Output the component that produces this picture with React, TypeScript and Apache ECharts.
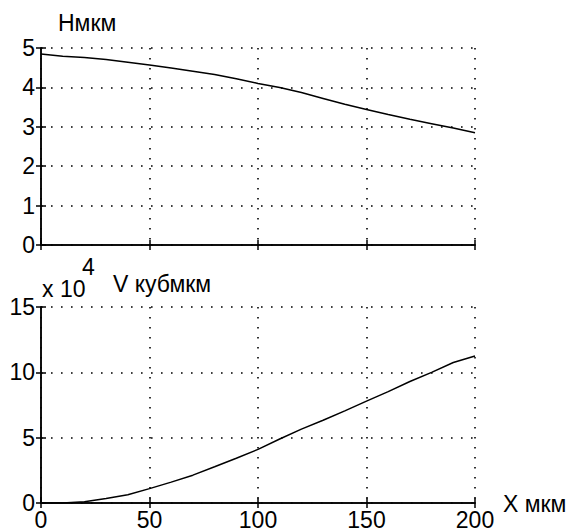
import React, { useEffect, useRef } from "react";
import * as echarts from "echarts";

const xValues = [0, 10, 20, 30, 40, 50, 60, 70, 80, 90, 100, 110, 120, 130, 140, 150, 160, 170, 180, 190, 200];
const hValues = [4.85, 4.79, 4.76, 4.71, 4.64, 4.57, 4.49, 4.41, 4.33, 4.22, 4.1, 4.0, 3.87, 3.72, 3.57, 3.44, 3.31, 3.19, 3.08, 2.97, 2.85];
const vValues = [0, 0, 0.1, 0.35, 0.63, 1.1, 1.6, 2.13, 2.77, 3.42, 4.1, 4.9, 5.65, 6.33, 7.05, 7.8, 8.52, 9.3, 10.0, 10.75, 11.25];

const xTicks = { min: 0, max: 200, interval: 50 };
const hTicks = { min: 0, max: 5, interval: 1 };
const vTicks = { min: 0, max: 15, interval: 5 };

const FONT = "'Liberation Sans', Arial, sans-serif";
const FS = 23;

export default function App() {
  const ref = useRef<HTMLDivElement>(null);
  useEffect(() => {
    document.body.style.margin = "0";
    const chart = echarts.init(ref.current!, null, { renderer: "svg" });
    const grid = [
      { left: 41, top: 48, width: 434, height: 197 },
      { left: 41, top: 307, width: 434, height: 196 },
    ];
    const axisLine = { show: true, lineStyle: { color: "#000", width: 1.5 } };
    const tick = { show: true, inside: true, length: 5, lineStyle: { color: "#000", width: 1.5 } };
    const split = { show: true, lineStyle: { color: "#000", width: 1.6, type: [1.6, 8.4] } };
    const label = { color: "#000", fontSize: FS, fontFamily: FONT, margin: 6 };
    const mkX = (gi: number, pos: string, main: boolean, showLabel: boolean) => ({
      type: "value",
      gridIndex: gi,
      position: pos,
      ...xTicks,
      axisLine,
      axisTick: tick,
      splitLine: main ? split : { show: false },
      axisLabel: showLabel ? { ...label, margin: 5 } : { show: false },
    });
    const mkY = (gi: number, pos: string, main: boolean, t: any) => ({
      type: "value",
      gridIndex: gi,
      position: pos,
      ...t,
      axisLine,
      axisTick: tick,
      splitLine: main ? split : { show: false },
      axisLabel: main ? label : { show: false },
    });
    const text = (t: string, x: number, y: number) => ({
      type: "text",
      x,
      y,
      style: { text: t, fill: "#000", font: `${FS}px ${FONT}`, verticalAlign: "middle", align: "left" },
    });
    chart.setOption({
      animation: false,
      backgroundColor: "#fff",
      grid,
      xAxis: [
        mkX(0, "bottom", true, false),
        mkX(0, "top", false, false),
        mkX(1, "bottom", true, true),
        mkX(1, "top", false, false),
      ],
      yAxis: [
        mkY(0, "left", true, hTicks),
        mkY(0, "right", false, hTicks),
        mkY(1, "left", true, vTicks),
        mkY(1, "right", false, vTicks),
      ],
      series: [
        {
          type: "line",
          xAxisIndex: 0,
          yAxisIndex: 0,
          data: xValues.map((x, i) => [x, hValues[i]]),
          showSymbol: false,
          lineStyle: { color: "#000", width: 1.5 },
        },
        {
          type: "line",
          xAxisIndex: 2,
          yAxisIndex: 2,
          data: xValues.map((x, i) => [x, vValues[i]]),
          showSymbol: false,
          lineStyle: { color: "#000", width: 1.5 },
        },
      ],
      graphic: [
        text("Нмкм", 58, 23),
        text("x 10", 42, 289),
        text("4", 82, 267),
        text("V кубмкм", 113, 284),
        text("X мкм", 503, 504),
      ],
    });
    return () => chart.dispose();
  }, []);
  return <div ref={ref} style={{ width: 566, height: 532 }} />;
}
